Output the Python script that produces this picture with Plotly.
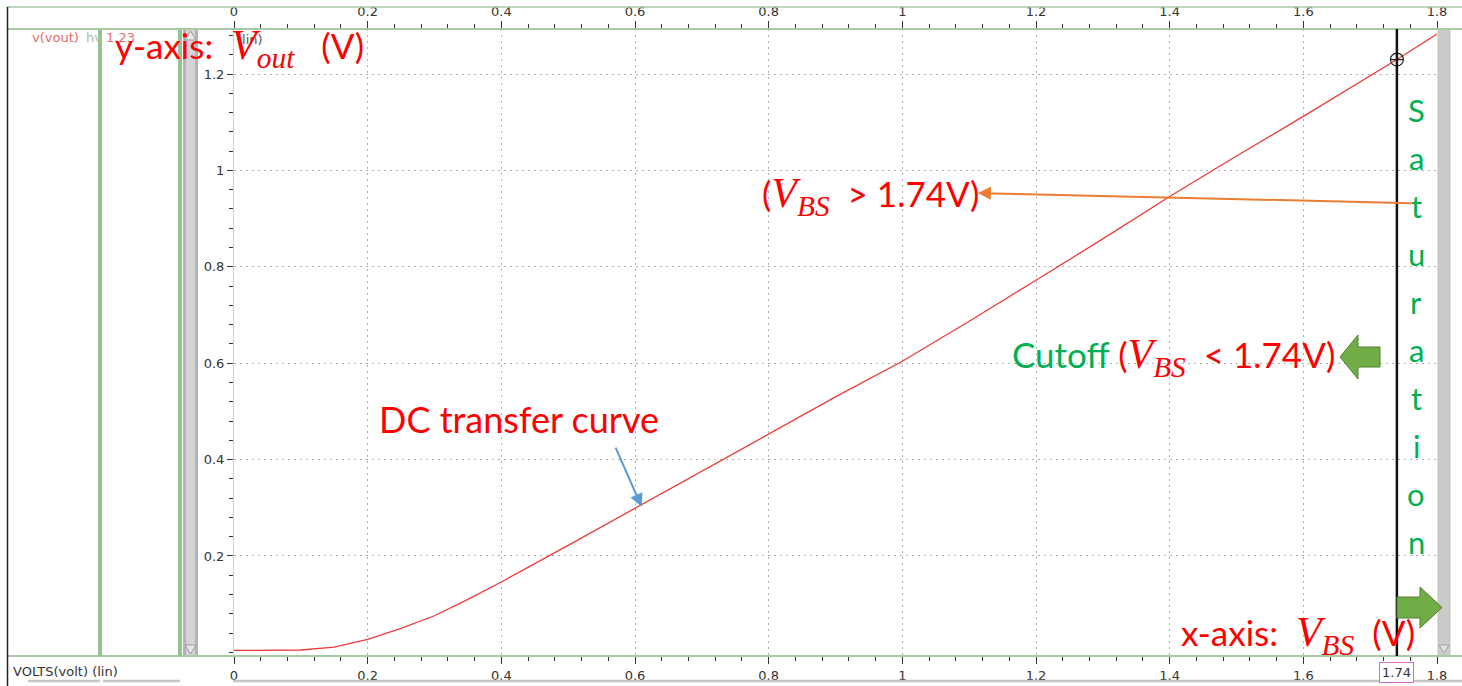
import plotly.graph_objects as go

# DC sweep of the output node: V_BS (V) against V_out (V)
vbs = [0.0, 0.05, 0.1, 0.15, 0.2, 0.25, 0.3, 0.35, 0.4, 0.5, 0.6, 0.7, 0.8,
       0.9, 1.0, 1.1, 1.2, 1.3, 1.4, 1.5, 1.6, 1.7, 1.74, 1.8]
vout = [0.004, 0.004, 0.005, 0.011, 0.027, 0.05, 0.076, 0.11, 0.146, 0.222,
        0.299, 0.376, 0.453, 0.53, 0.604, 0.687, 0.772, 0.858, 0.946, 1.03,
        1.112, 1.197, 1.23, 1.283]

# cursor placed on the sweep
cursor_x = 1.74
cursor_y = 1.23

x_ticks = [0, 0.2, 0.4, 0.6, 0.8, 1, 1.2, 1.4, 1.6, 1.8]
y_ticks = [0.2, 0.4, 0.6, 0.8, 1, 1.2]
y_tick_text = ["0.2", "0.4", "0.6", "0.8", "1", "1.2"]

W, H = 1462, 686
L, R, T, B = 234, 25, 29, 30
PW, PH = W - L - R, H - T - B


def px(x):
    return (x - L) / PW


def py(y):
    return (H - B - y) / PH


RED = "#ff0000"
GREEN_TXT = "#00b050"
TICK_FONT = dict(family="DejaVu Sans", size=13, color="#333333")
FRAME_GREEN = "#a9c9a4"
GRID = dict(showgrid=True, gridcolor="#b0b0b0", griddash="2px,4px", gridwidth=1)
MATH = "Liberation Serif"
TXT = "Lato"

fig = go.Figure()

fig.add_trace(go.Scatter(
    x=vbs, y=vout, mode="lines",
    line=dict(color="#ec3a3a", width=1.3),
    hoverinfo="skip", showlegend=False,
))
fig.add_trace(go.Scatter(
    x=[cursor_x], y=[cursor_y], mode="markers",
    marker=dict(symbol="circle-cross-open", size=13, color="#222222",
                line=dict(width=1.2, color="#222222")),
    hoverinfo="skip", showlegend=False,
))
# invisible trace so the top axis is drawn
fig.add_trace(go.Scatter(x=[0, 1.8], y=[0, 0], xaxis="x2", mode="lines",
                         line=dict(width=0), hoverinfo="skip", showlegend=False))

axis_common = dict(
    range=[0, 1.8], tickvals=x_ticks, ticks="outside", ticklen=7,
    tickcolor="#333333", tickwidth=1, tickfont=TICK_FONT,
    minor=dict(dtick=0.04, ticklen=4, ticks="outside", tickcolor="#333333",
               showgrid=False),
    zeroline=False, showline=False, automargin=False,
)

fig.update_layout(
    width=W, height=H,
    margin=dict(l=L, r=R, t=T, b=B, pad=0, autoexpand=False),
    paper_bgcolor="white", plot_bgcolor="white",
    xaxis=dict(**axis_common, side="bottom", **GRID),
    xaxis2=dict(**axis_common, side="top", overlaying="x", showgrid=False),
    yaxis=dict(range=[-0.0075, 1.2934], tickvals=y_ticks, ticktext=y_tick_text,
               ticks="outside", ticklen=6, tickcolor="#333333",
               tickfont=TICK_FONT, automargin=False,
               minor=dict(dtick=0.04, ticklen=4, ticks="outside",
                          tickcolor="#333333", showgrid=False),
               **GRID,
               zeroline=False, showline=True, linecolor="#c8d8c4",
               linewidth=1),
    showlegend=False,
)

shapes = []
# frame lines of the waveform viewer
shapes.append(dict(type="line", xref="paper", yref="paper",
                   x0=px(7), x1=px(W), y0=py(7), y1=py(7),
                   line=dict(color=FRAME_GREEN, width=1.5)))
for yy in (29, 656):
    shapes.append(dict(type="line", xref="paper", yref="paper",
                       x0=px(7), x1=px(W), y0=py(yy), y1=py(yy),
                       line=dict(color=FRAME_GREEN, width=2)))
shapes.append(dict(type="line", xref="paper", yref="paper",
                   x0=px(7.5), x1=px(7.5), y0=py(7), y1=py(H),
                   line=dict(color="#222222", width=1.5)))
# bottom scroll strips
for a, b in ((28, 100), (103, 180), (233, W)):
    shapes.append(dict(type="line", xref="paper", yref="paper",
                       x0=px(a), x1=px(b), y0=py(681), y1=py(681),
                       line=dict(color="#c4c8c4", width=2.5)))
# green separators in the left panel
for xx in (100, 180):
    shapes.append(dict(type="rect", xref="paper", yref="paper",
                       x0=px(xx - 2), x1=px(xx + 2), y0=py(656), y1=py(30),
                       fillcolor="#92c492", line=dict(width=0)))
# left scroll bar
shapes.append(dict(type="rect", xref="paper", yref="paper",
                   x0=px(183), x1=px(198), y0=py(655), y1=py(30),
                   fillcolor="#b4b4b4", line=dict(width=0)))
shapes.append(dict(type="rect", xref="paper", yref="paper",
                   x0=px(186), x1=px(195), y0=py(655), y1=py(30),
                   fillcolor="#d4d4d4", line=dict(width=0)))
shapes.append(dict(type="path", xref="paper", yref="paper",
                   path=f"M{px(185)},{py(645)} L{px(196)},{py(645)} L{px(190.5)},{py(654)} Z",
                   fillcolor="#e8e8e8", line=dict(color="#9a9a9a", width=1)))
shapes.append(dict(type="path", xref="paper", yref="paper",
                   path=f"M{px(185)},{py(40)} L{px(196)},{py(40)} L{px(190.5)},{py(31)} Z",
                   fillcolor="#e8e8e8", line=dict(color="#9a9a9a", width=1)))
# right scroll bar
shapes.append(dict(type="rect", xref="paper", yref="paper",
                   x0=px(1438), x1=px(1450), y0=py(655), y1=py(30),
                   fillcolor="#cbcbcb", line=dict(color="#b8c8b4", width=1)))
shapes.append(dict(type="path", xref="paper", yref="paper",
                   path=f"M{px(1439)},{py(645)} L{px(1449)},{py(645)} L{px(1444)},{py(653)} Z",
                   fillcolor="#e0e0e0", line=dict(color="#a0a0a0", width=1)))
# cursor line
shapes.append(dict(type="line", xref="x", yref="paper",
                   x0=cursor_x, x1=cursor_x, y0=0, y1=1,
                   line=dict(color="#111111", width=2.5)))
# block arrows
ARROW_FILL = "#70ad47"
ARROW_EDGE = "#507e32"
left_arrow = [(1340, 357), (1358, 335), (1358, 347), (1380, 347),
              (1380, 367), (1358, 367), (1358, 379)]
right_arrow = [(1397, 597), (1420, 597), (1420, 587), (1442, 607.5),
               (1420, 628), (1420, 618), (1397, 618)]
for pts in (left_arrow, right_arrow):
    path = "M" + " L".join(f"{px(a)},{py(b)}" for a, b in pts) + " Z"
    shapes.append(dict(type="path", xref="paper", yref="paper", path=path,
                       fillcolor=ARROW_FILL, line=dict(color=ARROW_EDGE, width=1)))
fig.update_layout(shapes=shapes)

ann = []


def text_at(x, y, text, size, color, family=TXT, xanchor="left", **kw):
    ann.append(dict(xref="paper", yref="paper", x=px(x), y=py(y), text=text,
                    showarrow=False, xanchor=xanchor, yanchor="middle",
                    font=dict(family=family, size=size, color=color), **kw))


def vsym(sub):
    return (f"<span style='font-family:{MATH};font-size:42px'>"
            f"<i>V<sub>{sub}</sub></i></span>")


NB = "\u00a0"

# viewer header labels
text_at(30, 38, "v(vout)", 13, "#e06a6a", family="DejaVu Sans")
text_at(84, 38, "hv", 13, "#a8c4a8", family="DejaVu Sans")
text_at(104, 38, "1.23", 13, "#e87070", family="DejaVu Sans")
text_at(235, 39, "(lin)", 13, "#555555", family="DejaVu Sans")
text_at(11, 671, "VOLTS(volt) (lin)", 13, "#333333", family="DejaVu Sans")

# cursor readout on the x axis
ann.append(dict(xref="x", yref="paper", x=cursor_x, y=py(672), text="1.74",
                showarrow=False, xanchor="center", yanchor="middle",
                font=dict(family="DejaVu Sans", size=13, color="#333333"),
                bordercolor="#d66cc8", borderwidth=1, borderpad=2,
                bgcolor="white"))

# callouts
text_at(113, 48, f"y-axis:{NB}{NB}{vsym('out')}{NB}{NB}{NB}(V)", 35, RED)
text_at(760, 196, f"({vsym('BS')}{NB}{NB}> 1.74V)", 35, RED)
text_at(1010, 357,
        f"Cutoff <span style='color:{RED}'>({vsym('BS')}{NB}{NB}< 1.74V)</span>",
        35, GREEN_TXT)
text_at(377, 419, "DC transfer curve", 36, RED)
text_at(1179, 635, f"x-axis:{NB}{NB}{vsym('BS')}{NB}{NB}(V)", 35, RED)

# vertical "Saturation" label
for i, ch in enumerate("Saturation"):
    text_at(1416, 110 + i * 48, ch, 31, GREEN_TXT, xanchor="center")

# pointer arrows
ann.append(dict(xref="x", yref="y", axref="x", ayref="y",
                x=1.113, y=0.953, ax=1.764, ay=0.932, text="",
                showarrow=True, arrowhead=2, arrowsize=1.3, arrowwidth=2,
                arrowcolor="#ed7d31"))
ann.append(dict(xref="x", yref="y", axref="x", ayref="y",
                x=0.610, y=0.302, ax=0.570, ay=0.428, text="",
                showarrow=True, arrowhead=2, arrowsize=1.3, arrowwidth=2,
                arrowcolor="#5b9bd5"))
fig.update_layout(annotations=ann)

fig.write_html("out.html")
